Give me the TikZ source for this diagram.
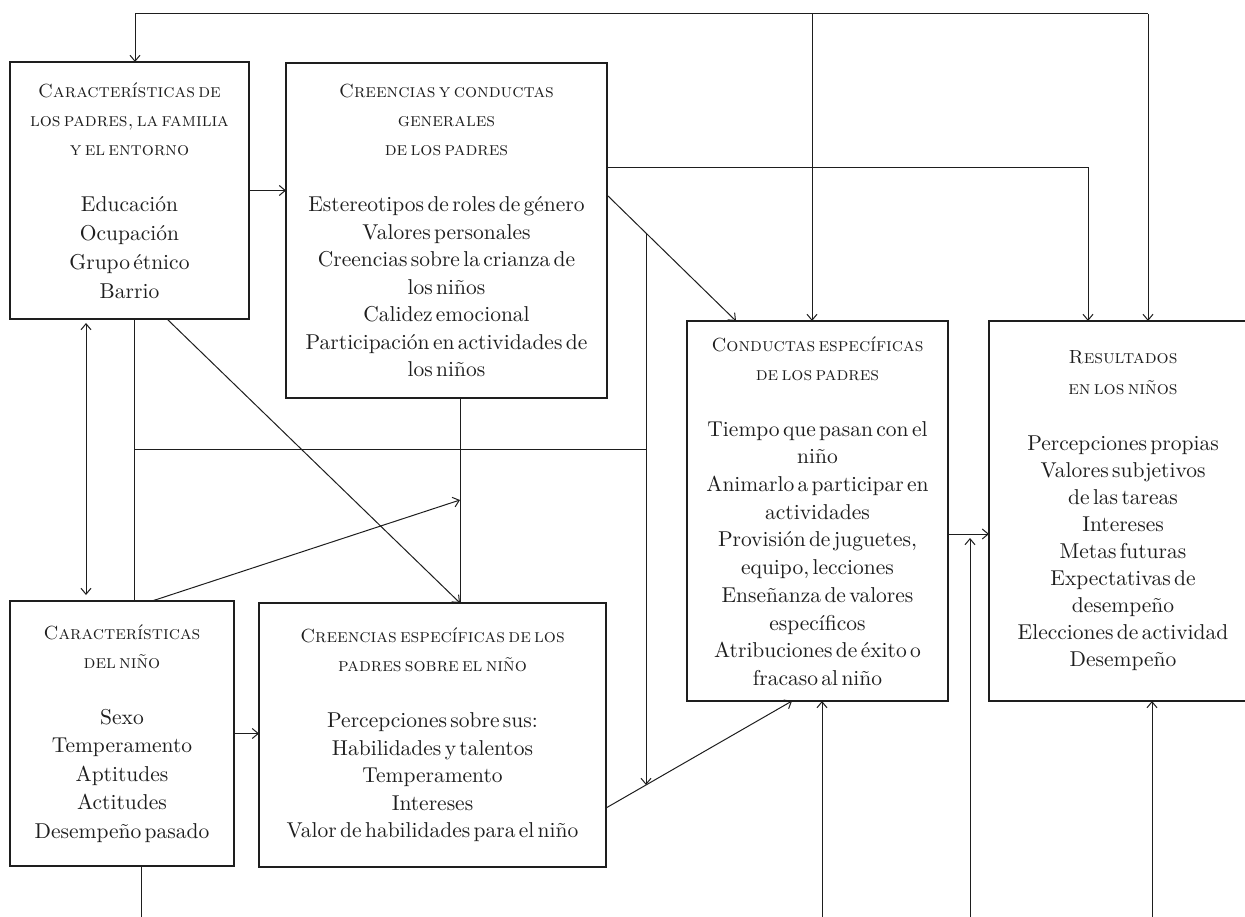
\documentclass[tikz,border=0pt]{standalone}
\usepackage{fontspec}
\setmainfont{lmroman10-regular}[Extension=.otf, SmallCapsFont=lmromancaps10-regular, WordSpace=1.3]
\usetikzlibrary{arrows.meta}
\definecolor{ink}{RGB}{30,30,30}
\newcommand{\headfont}{\fontsize{19}{29}\selectfont\scshape}
\newcommand{\bodyfont}[1]{\fontsize{21.5}{#1}\selectfont}
% heading block, gap, body block; #3 is the body line spacing in pt
\newcommand{\boxcontent}[3]{{\headfont #1\par}\vspace{\dimexpr 56pt-#3pt\relax}{\bodyfont{#3pt}#2\par}}
\tikzset{
  box/.style={draw=ink, line width=2.6pt, rectangle, inner sep=3pt, outer sep=0pt,
    align=center, text=ink},
  link/.style={draw=ink, line width=1pt},
  arr/.style={link, -{Straight Barb[length=6pt,width=10pt]}},
  darr/.style={link, {Straight Barb[length=6pt,width=10pt]}-{Straight Barb[length=6pt,width=10pt]}},
}
\begin{document}
\begin{tikzpicture}[x=1pt, y=-1pt]
\useasboundingbox (0,0) rectangle (1245,917);
\clip (0,0) rectangle (1245,917);

% boxes
\node[box, minimum width=239pt, minimum height=257pt, text width=233pt] (A) at (129.5,190.5)
  {\boxcontent{Características de\\los padres, la familia\\y el entorno}
  {Educación\\Ocupación\\Grupo étnico\\Barrio}{29}};
\node[box, minimum width=321pt, minimum height=335pt, text width=315pt] (B) at (446.5,230.5)
  {\boxcontent{Creencias y conductas\\generales\\de los padres}
  {Estereotipos de roles de género\\Valores personales\\Creencias sobre la crianza de\\los niños\\Calidez emocional\\Participación en actividades de\\los niños}{27.5}};
\node[box, minimum width=261pt, minimum height=380pt, text width=255pt] (C) at (817.5,511)
  {\boxcontent{Conductas específicas\\de los padres}
  {Tiempo que pasan con el\\niño\\Animarlo a participar en\\actividades\\Provisión de juguetes,\\equipo, lecciones\\Enseñanza de valores\\específicos\\Atribuciones de éxito o\\fracaso al niño}{27.7}};
\node[box, minimum width=268pt, minimum height=380pt, text width=262pt] (D) at (1123,511)
  {{\fontsize{19}{31}\selectfont\scshape Resultados\\en los niños\par}\vspace{29pt}%
  {\bodyfont{27}Percepciones propias\\Valores subjetivos\\de las tareas\\Intereses\\Metas futuras\\Expectativas de\\desempeño\\Elecciones de actividad\\Desempeño\par}};
\node[box, minimum width=224pt, minimum height=265pt, text width=218pt] (E) at (122,733.5)
  {\boxcontent{Características\\del niño}
  {Sexo\\Temperamento\\Aptitudes\\Actitudes\\Desempeño pasado}{28.5}};
\node[box, minimum width=347pt, minimum height=264pt, text width=341pt] (F) at (432.5,735)
  {\boxcontent{Creencias específicas de los\\padres sobre el niño}
  {Percepciones sobre sus:\\Habilidades y talentos\\Temperamento\\Intereses\\Valor de habilidades para el niño}{27.5}};

% feedback lines along the top
\coordinate (T0) at (135,14);
\coordinate (T1) at (812,14);
\coordinate (T2) at (1148,14);
\draw[arr] (T2) -- (T0) -- (A.north -| T0);
\draw[arr] (T1) -- (C.north -| T1);
\draw[arr] (T2) -- (D.north -| T2);

% general beliefs
\draw[arr] (A.east) -- (A.east -| B.west);
\coordinate (bd) at (1088,168);
\draw[arr] (B.east |- bd) -- (bd) -- (D.north -| bd);
\coordinate (bc0) at (607,195);
\coordinate (bc1) at (736,321);
\draw[arr] (B.east |- bc0) -- (C.north -| bc1);
\coordinate (v0) at (646,233);
\coordinate (v1) at (646,785);
\draw[arr] (v0) -- (v1);

% family characteristics
\coordinate (h0) at (134,449);
\draw[link] (A.south -| h0) -- (E.north -| h0);
\draw[link] (h0) -- (h0 -| v0);
\coordinate (af0) at (167,319);
\coordinate (bf) at (460,0);
\draw[arr] (A.south -| af0) -- (F.north -| bf);
\draw[link] (B.south -| bf) -- (F.north -| bf);
\coordinate (ea) at (86,0);
\draw[darr, shorten <=4pt, shorten >=6pt] (A.south -| ea) -- (E.north -| ea);

% child characteristics
\coordinate (e0) at (152,601);
\coordinate (e1) at (460,500);
\draw[arr] (E.north -| e0) -- (e1);
\draw[arr] (E.east) -- (E.east -| F.west);

% specific beliefs and behaviours
\coordinate (fc0) at (0,808);
\coordinate (fc1) at (792,0);
\draw[arr] (F.east |- fc0) -- (C.south -| fc1);
\coordinate (cd) at (0,534);
\draw[arr] (C.east |- cd) -- (D.west |- cd);

% lines entering from below
\coordinate (b0) at (141,925);
\draw[link] (E.south -| b0) -- (b0);
\coordinate (b1) at (822,925);
\draw[arr] (b1) -- (C.south -| b1);
\coordinate (b2) at (970,925);
\coordinate (b2t) at (970,538);
\draw[arr] (b2) -- (b2t);
\coordinate (b3) at (1152,925);
\draw[arr] (b3) -- (D.south -| b3);
\end{tikzpicture}
\end{document}
